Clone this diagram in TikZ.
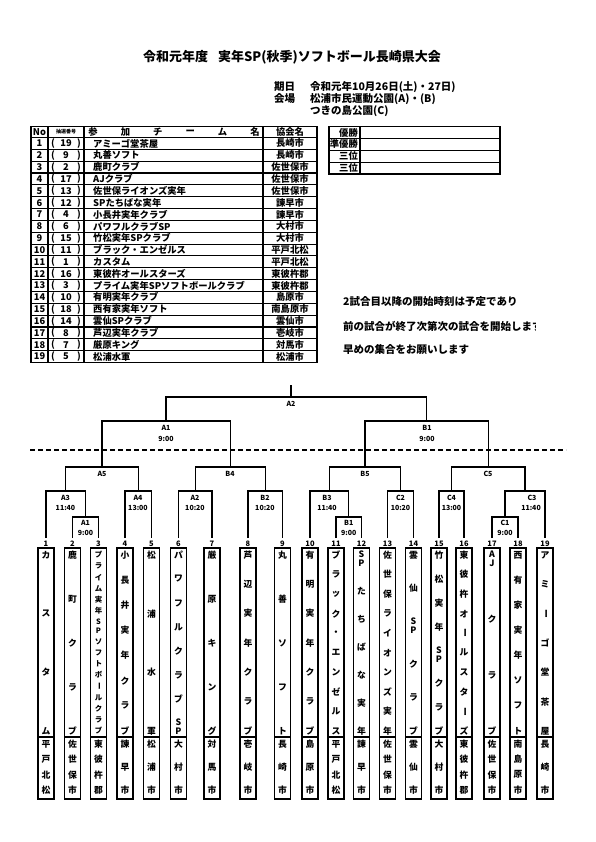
\documentclass[tikz,border=0pt]{standalone}
\usepackage{fontspec}
\setmainfont{Noto Sans CJK JP}
\tikzset{
 every node/.style={inner sep=0pt},
 ttl/.style={font=\bfseries\fontsize{13}{15}\selectfont},
 info/.style={font=\bfseries\fontsize{10.5}{12}\selectfont},
 note/.style={font=\bfseries\fontsize{10.5}{12}\selectfont},
 cell/.style={font=\bfseries\fontsize{9.3}{10}\selectfont},
 tiny/.style={font=\bfseries\fontsize{5}{6}\selectfont},
 lab/.style={font=\bfseries\fontsize{7}{8}\selectfont},
 num/.style={font=\bfseries\fontsize{7.5}{8}\selectfont},
 tch/.style={font=\bfseries\fontsize{8.8}{9}\selectfont},
 brk/.style={line width=1.3pt},
 boxl/.style={draw, line width=1.6pt, minimum width=16pt},
 outer/.style={line width=1.8pt},
 inner/.style={line width=1.1pt},
}
\def\chouon{ー}
% team column: #1 idx, #2 x, #3 units, #4 double units, #5 list
\newcommand\tcol[5]{%
 \pgfmathsetmacro\tgap{(186-10*#3-8*#4)/(#3-1)}%
 \xdef\tcur{550}%
 \foreach \ca/\cb [count=\k] in {#5}{%
   \edef\ua{\ca}\edef\ub{\cb}%
   \ifx\ua\ub
     \pgfmathsetmacro\ya{\tcur+5}%
     \ifx\ua\chouon
       \node[tch,rotate=-90] (n#1-\k) at (#2,\ya) {\ca};
     \else
       \node[tch] (n#1-\k) at (#2,\ya) {\ca};
     \fi
     \pgfmathsetmacro\tnext{\tcur+10+\tgap}%
   \else
     \pgfmathsetmacro\ya{\tcur+4.5}\pgfmathsetmacro\yb{\tcur+13.5}%
     \node[tch] (n#1-\k) at (#2,\ya) {\ca};
     \node[tch] (m#1-\k) at (#2,\yb) {\cb};
     \pgfmathsetmacro\tnext{\tcur+18+\tgap}%
   \fi
   \xdef\tcur{\tnext}%
 }%
}
% city column: #1 idx, #2 x, #3 n, #4 list
\newcommand\ccol[4]{%
 \pgfmathsetmacro\cgap{(56-10*#3)/(#3-1)}%
 \foreach \ca [count=\k] in {#4}{%
   \pgfmathsetmacro\ya{744+(\k-1)*(10+\cgap)}%
   \node[tch] (c#1-\k) at (#2,\ya) {\ca};
 }%
}
\begin{document}
\begin{tikzpicture}[x=1pt,y=-1pt]
\useasboundingbox (0,0) rectangle (595,842);

% ---- title & info
\node[ttl] (title) at (292,57) {令和元年度\hspace{10pt}実年SP(秋季)ソフトボール長崎県大会};
\node[info,anchor=west] (kijitsu) at (274,87) {期日};
\node[info,anchor=west] (date) at (310,87) {令和元年10月26日(土)・27日)};
\node[info,anchor=west] (kaijo) at (274,99) {会場};
\node[info,anchor=west] (venue1) at (310,99) {松浦市民運動公園(A)・(B)};
\node[info,anchor=west] (venue2) at (310,111) {つきの島公園(C)};

% ---- main table
\draw[outer] (31,126.5) rectangle (317,362.5);
\draw[inner] (31,137.5) -- (317,137.5);
\foreach \i in {1,...,18}{
  \draw[inner] (31,{137.5+\i*11.842}) -- (317,{137.5+\i*11.842});
}
\foreach \xx in {48,84,263}{
  \draw[inner] (\xx,126.5) -- (\xx,362.5);
}
\node[cell] (hno) at (39.5,132) {No};
\node[tiny] (hdraw) at (66,132) {抽選番号};
\foreach \c [count=\k] in {参,加,チ,ー,ム,名}{
  \node[cell] (h\k) at ({93+(\k-1)*32.4},132) {\c};
}
\node[cell] (hcity) at (290,132) {協会名};
\foreach \n/\d/\tn/\cn in {
 1/19/アミーゴ堂茶屋/長崎市,
 2/9/丸善ソフト/長崎市,
 3/2/鹿町クラブ/佐世保市,
 4/17/AJクラブ/佐世保市,
 5/13/佐世保ライオンズ実年/佐世保市,
 6/12/SPたちばな実年/諫早市,
 7/4/小長井実年クラブ/諫早市,
 8/6/パワフルクラブSP/大村市,
 9/15/竹松実年SPクラブ/大村市,
 10/11/ブラック・エンゼルス/平戸北松,
 11/1/カスタム/平戸北松,
 12/16/東彼杵オールスターズ/東彼杵郡,
 13/3/プライム実年SPソフトボールクラブ/東彼杵郡,
 14/10/有明実年クラブ/島原市,
 15/18/西有家実年ソフト/南島原市,
 16/14/雲仙SPクラブ/雲仙市,
 17/8/芦辺実年クラブ/壱岐市,
 18/7/厳原キング/対馬市,
 19/5/松浦水軍/松浦市}{
  \pgfmathsetmacro\yy{137.5+(\n-0.5)*11.842}
  \node[cell] (no\n) at (39.5,\yy) {\n};
  \node[cell] (lp\n) at (53,\yy) {(};
  \node[cell] (dr\n) at (66,\yy) {\d};
  \node[cell] (rp\n) at (79,\yy) {)};
  \node[cell,anchor=west] (tm\n) at (93,\yy) {\tn};
  \node[cell] (ct\n) at (290,\yy) {\cn};
}

% ---- result table
\draw[outer] (329,126.5) rectangle (500,174);
\foreach \yy in {138.4,150.3,162.2}{
  \draw[inner] (329,\yy) -- (500,\yy);
}
\draw[inner] (360,126.5) -- (360,174);
\node[cell,anchor=east] (r1) at (358,132.5) {優勝};
\node[cell,anchor=east] (r2) at (358,144.4) {準優勝};
\node[cell,anchor=east] (r3) at (358,156.2) {三位};
\node[cell,anchor=east] (r4) at (358,168.1) {三位};

% ---- notes
\node[note,anchor=west] (note1) at (343,302) {2試合目以降の開始時刻は予定であり};
\begin{scope}
  \clip (330,315) rectangle (535,337);
  \node[note,anchor=west] (note2) at (343,326) {前の試合が終了次第次の試合を開始します};
\end{scope}
\node[note,anchor=west] (note3) at (343,350) {早めの集合をお願いします};

% ---- bracket coordinates
\foreach \i/\x in {1/46,2/72.5,3/98.5,4/125,5/151.5,6/178.5,7/212,8/248,9/282.5,10/310,
  11/336,12/361.5,13/387.5,14/413.5,15/439,16/464,17/492,18/518,19/545}{
  \coordinate (t\i) at (\x,538);
  \node[num] (k\i) at (\x,543.5) {\i};
  \node[boxl,minimum height=189pt] (bx\i) at (\x,642.5) {};
  \node[boxl,minimum height=62pt] (cb\i) at (\x,768) {};
}
\coordinate (a1s) at (85.5,517);
\coordinate (a3) at (65.75,491);
\coordinate (a4) at (138.25,491);
\coordinate (a2) at (195.25,491);
\coordinate (b2) at (265.25,491);
\coordinate (b1s) at (348.75,517);
\coordinate (b3) at (329.4,491);
\coordinate (c2) at (400.5,491);
\coordinate (c4) at (451.5,491);
\coordinate (c1s) at (505,517);
\coordinate (c3) at (525,491);
\coordinate (a5) at (102,467);
\coordinate (b4) at (230.25,467);
\coordinate (b5) at (365,467);
\coordinate (c5) at (488.25,467);
\coordinate (a1) at (166,421);
\coordinate (b1) at (426.6,421);
\coordinate (top) at (291,397);
\coordinate (stem) at (291,385);
\coordinate (dl) at (30,450);
\coordinate (dr) at (566,450);

\draw[brk] (t2) |- (a1s) -| (t3);
\draw[brk] (t1) |- (a3) -| (a1s);
\draw[brk] (t4) |- (a4) -| (t5);
\draw[brk] (a3) |- (a5) -| (a4);
\draw[brk] (t6) |- (a2) -| (t7);
\draw[brk] (t8) |- (b2) -| (t9);
\draw[brk] (a2) |- (b4) -| (b2);
\draw[brk] (a5) |- (a1) -| (b4);
\draw[brk] (t11) |- (b1s) -| (t12);
\draw[brk] (t10) |- (b3) -| (b1s);
\draw[brk] (t13) |- (c2) -| (t14);
\draw[brk] (b3) |- (b5) -| (c2);
\draw[brk] (t15) |- (c4) -| (t16);
\draw[brk] (t17) |- (c1s) -| (t18);
\draw[brk] (c1s) |- (c3) -| (t19);
\draw[brk] (c4) |- (c5) -| (c3);
\draw[brk] (b5) |- (b1) -| (c5);
\draw[brk] (a1) |- (top) -| (b1);
\draw[brk] (top) -- (stem);
\draw[line width=1.3pt, dash pattern=on 5pt off 3pt] (dl) -- (dr);

% ---- bracket labels
\node[lab] (lA2t) at (291,404) {A2};
\node[lab] (lA1b) at (166,427.5) {A1};
\node[lab] (tA1b) at (166,438.5) {9:00};
\node[lab] (lB1b) at (427,427.5) {B1};
\node[lab] (tB1b) at (427,438.5) {9:00};
\node[lab] (lA5) at (102,474) {A5};
\node[lab] (lB4) at (230,474) {B4};
\node[lab] (lB5) at (365,474) {B5};
\node[lab] (lC5) at (488,474) {C5};
\node[lab] (lA3) at (65.5,497.5) {A3};
\node[lab] (tA3) at (65.5,508) {11:40};
\node[lab] (lA4) at (138,497.5) {A4};
\node[lab] (tA4) at (138,508) {13:00};
\node[lab] (lA2) at (195,497.5) {A2};
\node[lab] (tA2) at (195,508) {10:20};
\node[lab] (lB2) at (265,497.5) {B2};
\node[lab] (tB2) at (265,508) {10:20};
\node[lab] (lB3) at (327,497.5) {B3};
\node[lab] (tB3) at (327,508) {11:40};
\node[lab] (lC2) at (400.5,497.5) {C2};
\node[lab] (tC2) at (400.5,508) {10:20};
\node[lab] (lC4) at (451.5,497.5) {C4};
\node[lab] (tC4) at (451.5,508) {13:00};
\node[lab] (lC3) at (532,497.5) {C3};
\node[lab] (tC3) at (531,508) {11:40};
\node[lab] (lA1s) at (85.5,523) {A1};
\node[lab] (tA1s) at (85.5,533) {9:00};
\node[lab] (lB1s) at (348.75,523) {B1};
\node[lab] (tB1s) at (348.75,533) {9:00};
\node[lab] (lC1s) at (505,523) {C1};
\node[lab] (tC1s) at (505,533) {9:00};

% ---- team names (vertical)
\tcol{1}{46}{4}{0}{カ,ス,タ,ム}
\tcol{2}{72.5}{5}{0}{鹿,町,ク,ラ,ブ}
\begin{scope}[tch/.style={font=\bfseries\fontsize{7.4}{8}\selectfont}]
\tcol{3}{98.5}{16}{1}{プ,ラ,イ,ム,実,年,S/P,ソ,フ,ト,ボ,ー,ル,ク,ラ,ブ}
\end{scope}
\tcol{4}{125}{8}{0}{小,長,井,実,年,ク,ラ,ブ}
\tcol{5}{151.5}{4}{0}{松,浦,水,軍}
\tcol{6}{178.5}{8}{1}{パ,ワ,フ,ル,ク,ラ,ブ,S/P}
\tcol{7}{212}{5}{0}{厳,原,キ,ン,グ}
\tcol{8}{248}{7}{0}{芦,辺,実,年,ク,ラ,ブ}
\tcol{9}{282.5}{5}{0}{丸,善,ソ,フ,ト}
\tcol{10}{310}{7}{0}{有,明,実,年,ク,ラ,ブ}
\tcol{11}{336}{10}{0}{ブ,ラ,ッ,ク,・,エ,ン,ゼ,ル,ス}
\tcol{12}{361.5}{7}{1}{S/P,た,ち,ば,な,実,年}
\tcol{13}{387.5}{10}{0}{佐,世,保,ラ,イ,オ,ン,ズ,実,年}
\tcol{14}{413.5}{6}{1}{雲,仙,S/P,ク,ラ,ブ}
\tcol{15}{439}{8}{1}{竹,松,実,年,S/P,ク,ラ,ブ}
\tcol{16}{464}{10}{0}{東,彼,杵,オ,ー,ル,ス,タ,ー,ズ}
\tcol{17}{492}{4}{1}{A/J,ク,ラ,ブ}
\tcol{18}{518}{8}{0}{西,有,家,実,年,ソ,フ,ト}
\tcol{19}{545}{7}{0}{ア,ミ,ー,ゴ,堂,茶,屋}

% ---- cities (vertical)
\ccol{1}{46}{4}{平,戸,北,松}
\ccol{2}{72.5}{4}{佐,世,保,市}
\ccol{3}{98.5}{4}{東,彼,杵,郡}
\ccol{4}{125}{3}{諫,早,市}
\ccol{5}{151.5}{3}{松,浦,市}
\ccol{6}{178.5}{3}{大,村,市}
\ccol{7}{212}{3}{対,馬,市}
\ccol{8}{248}{3}{壱,岐,市}
\ccol{9}{282.5}{3}{長,崎,市}
\ccol{10}{310}{3}{島,原,市}
\ccol{11}{336}{4}{平,戸,北,松}
\ccol{12}{361.5}{3}{諫,早,市}
\ccol{13}{387.5}{4}{佐,世,保,市}
\ccol{14}{413.5}{3}{雲,仙,市}
\ccol{15}{439}{3}{大,村,市}
\ccol{16}{464}{4}{東,彼,杵,郡}
\ccol{17}{492}{4}{佐,世,保,市}
\ccol{18}{518}{4}{南,島,原,市}
\ccol{19}{545}{3}{長,崎,市}
\end{tikzpicture}
\end{document}
